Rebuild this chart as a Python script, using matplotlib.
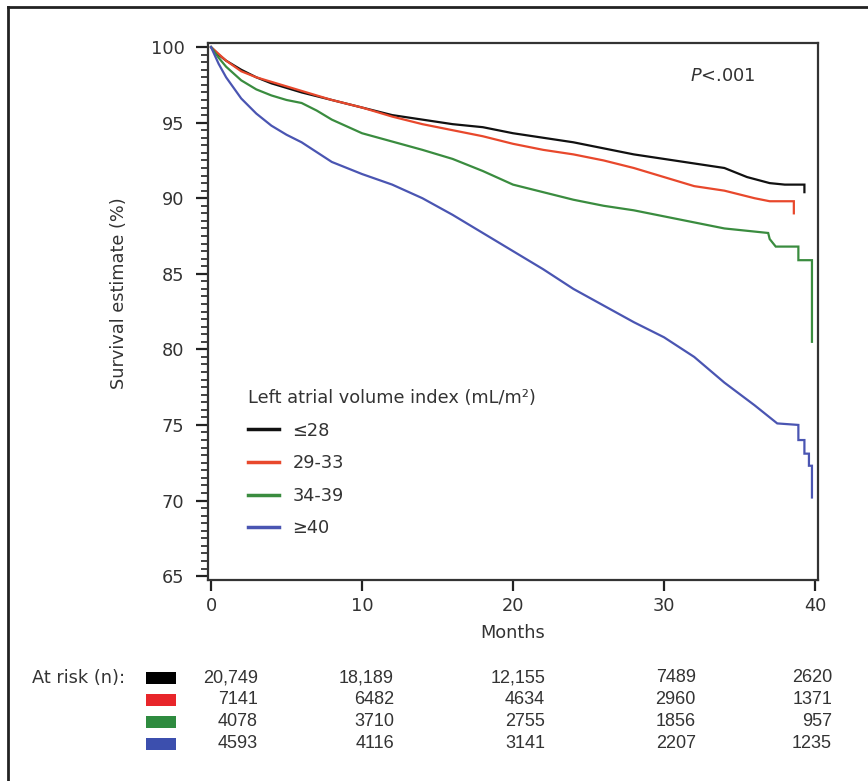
import matplotlib
matplotlib.use("Agg")
import matplotlib.pyplot as plt
from matplotlib.lines import Line2D
from matplotlib.patches import Rectangle

plt.rcParams['font.family'] = ['DejaVu Sans']
plt.rcParams['mathtext.fontset'] = 'custom'
plt.rcParams['mathtext.rm'] = 'DejaVu Sans'
plt.rcParams['mathtext.it'] = 'DejaVu Sans:italic'

# ---------------- data ----------------
groups = ["\u226428", "29-33", "34-39", "\u226540"]
colors = ["#111111", "#e8482c", "#3a8c3f", "#4a55b2"]
square_colors = ["#000000", "#e8262a", "#2e8b3f", "#3c4fae"]

t_le28 = [0, 0.5, 1, 2, 3, 4, 5, 6, 8, 10, 12, 14, 16, 18, 20, 22, 24, 26, 28, 30, 32, 34, 35.5, 37, 38, 39.3, 39.3]
s_le28 = [100, 99.5, 99.1, 98.5, 98.0, 97.6, 97.3, 97.0, 96.5, 96.0, 95.5, 95.2, 94.9, 94.7, 94.3, 94.0, 93.7, 93.3,
          92.9, 92.6, 92.3, 92.0, 91.4, 91.0, 90.9, 90.9, 90.4]

t_29_33 = [0, 1, 2, 3, 4, 5, 6, 8, 10, 12, 14, 16, 18, 20, 22, 24, 26, 28, 30, 32, 34, 36, 37, 38.6, 38.6]
s_29_33 = [100, 99.1, 98.4, 98.0, 97.7, 97.4, 97.1, 96.5, 96.0, 95.4, 94.9, 94.5, 94.1, 93.6, 93.2, 92.9, 92.5,
           92.0, 91.4, 90.8, 90.5, 90.0, 89.8, 89.8, 89.0]

t_34_39 = [0, 0.5, 1, 2, 3, 4, 5, 6, 7, 8, 10, 12, 14, 16, 18, 20, 22, 24, 26, 28, 30, 32, 34, 36.9, 37.0, 37.4,
           38.9, 38.9, 39.8, 39.8]
s_34_39 = [100, 99.3, 98.7, 97.8, 97.2, 96.8, 96.5, 96.3, 95.8, 95.2, 94.3, 93.75, 93.2, 92.6, 91.8, 90.9, 90.4,
           89.9, 89.5, 89.2, 88.8, 88.4, 88.0, 87.7, 87.3, 86.8, 86.8, 85.9, 85.9, 80.5]

t_ge40 = [0, 0.5, 1, 2, 3, 4, 5, 6, 8, 10, 12, 14, 16, 18, 20, 22, 24, 26, 28, 30, 32, 34, 36, 37.5, 38.9, 38.9,
          39.3, 39.3, 39.6, 39.6, 39.8, 39.8]
s_ge40 = [100, 98.9, 98.0, 96.6, 95.6, 94.8, 94.2, 93.7, 92.4, 91.6, 90.9, 90.0, 88.9, 87.7, 86.5, 85.3, 84.0,
          82.9, 81.8, 80.8, 79.5, 77.8, 76.3, 75.1, 75.0, 74.0, 74.0, 73.1, 73.1, 72.3, 72.3, 70.2]

times = [t_le28, t_29_33, t_34_39, t_ge40]
surv = [s_le28, s_29_33, s_34_39, s_ge40]

risk_le28 = ["20,749", "18,189", "12,155", "7489", "2620"]
risk_29_33 = ["7141", "6482", "4634", "2960", "1371"]
risk_34_39 = ["4078", "3710", "2755", "1856", "957"]
risk_ge40 = ["4593", "4116", "3141", "2207", "1235"]
risks = [risk_le28, risk_29_33, risk_34_39, risk_ge40]

xticks = [0, 10, 20, 30, 40]
yticks = [65, 70, 75, 80, 85, 90, 95, 100]

# ---------------- figure ----------------
W, H = 868, 781
FS = 12.8
fig = plt.figure(figsize=(W / 100, H / 100), dpi=100)
ax = fig.add_axes([208 / W, 1 - 580 / H, (818 - 208) / W, (580 - 43) / H])

text_col = "#333333"
for t, s, c in zip(times, surv, colors):
    ax.plot(t, s, color=c, lw=1.6, solid_joinstyle='miter')

ax.set_xlim(-0.2, 40.2)
ax.set_ylim(64.74, 100.27)
ax.set_xticks(xticks)
ax.set_yticks(yticks)
ax.set_yticks([v / 2 for v in range(130, 201)], minor=True)
ax.tick_params(axis='both', which='major', direction='out', length=9, width=1.6, color="#222222",
               labelsize=FS, labelcolor=text_col, pad=8)
ax.tick_params(axis='y', which='minor', direction='out', length=5, width=1.2, color="#222222")
ax.tick_params(axis='x', which='major', length=8, pad=4)
for sp in ax.spines.values():
    sp.set_linewidth(1.6)
    sp.set_color("#333333")

ax.set_xlabel("Months", fontsize=FS, color=text_col, labelpad=7)
ax.set_ylabel("Survival estimate (%)", fontsize=FS, color=text_col)
ax.yaxis.set_label_coords(-0.131, 0.534)

ax.text(0.79, 0.938, "$\\mathit{P}$<.001", transform=ax.transAxes, fontsize=FS, color=text_col,
        ha='left', va='center')

handles = [Line2D([], [], color=c, lw=2.5) for c in colors]
leg = ax.legend(handles, groups, title="Left atrial volume index (mL/m\u00b2)", loc='upper left',
                bbox_to_anchor=((232 - 208) / 610, (580 - 373) / 537), frameon=False,
                fontsize=FS, title_fontsize=FS, handlelength=1.75, handletextpad=0.75,
                labelspacing=0.82, alignment='left')
for txt in leg.get_texts():
    txt.set_color(text_col)
leg.get_title().set_color(text_col)

# at-risk table (figure pixel coordinates)
def fx(px):
    return px / W

def fy(py):
    return 1 - py / H

fig.text(fx(32), fy(678), "At risk (n):", fontsize=FS, color=text_col, ha='left', va='center')
col_right = [258, 394, 545, 696, 832]
for i, (row, sc) in enumerate(zip(risks, square_colors)):
    yc = 678 + 22 * i
    fig.patches.append(Rectangle((fx(146), fy(yc + 6)), 30 / W, 12 / H, transform=fig.transFigure,
                                 facecolor=sc, edgecolor='none'))
    for xr, val in zip(col_right, row):
        fig.text(fx(xr), fy(yc), val, fontsize=13, color=text_col, ha='right', va='center',
                 family=['Liberation Sans'])

# outer frame (left and top edges)
fig.add_artist(Line2D([fx(8), fx(8)], [0, fy(7)], transform=fig.transFigure, color="#222222", lw=2))
fig.add_artist(Line2D([fx(8), 1], [fy(7), fy(7)], transform=fig.transFigure, color="#222222", lw=2))

fig.savefig("out.png", dpi=100, facecolor='white')
